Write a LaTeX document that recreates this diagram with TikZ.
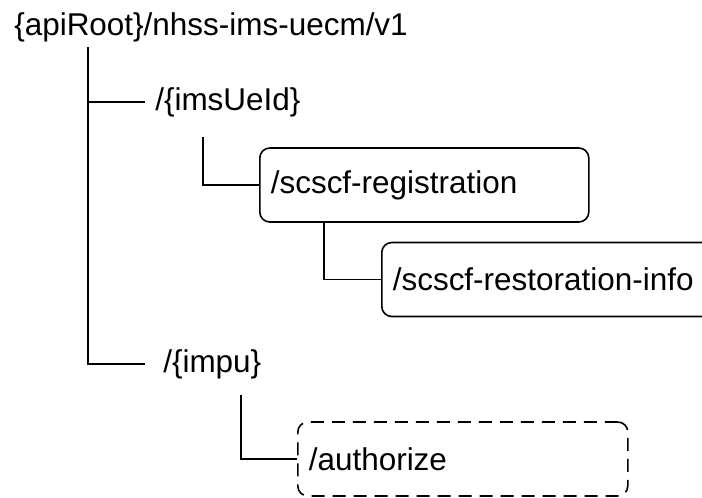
\documentclass[tikz,border=0pt]{standalone}
\usepackage{fontspec}
\setmainfont{Liberation Sans}
\begin{document}
\begin{tikzpicture}[
        x=0.75pt,
        y=-0.75pt,
        tree/.style={
            line width=1.2pt
        },
        pathText/.style={
            inner sep=0pt,
            font=\fontsize{23.6pt}{28pt}\selectfont
        },
        resource/.style={
            rectangle,
            draw,
            line width=1.2pt,
            rounded corners=7.5pt,
            minimum height=55.5pt,
            inner xsep=8.25pt,
            align=left,
            font=\fontsize{23.6pt}{28pt}\selectfont
        },
        optResource/.style={
            resource,
            dash pattern=on 9.75pt off 6pt
        }
    ]

        \clip (0,0) rectangle (702,497);

        \node[pathText, anchor=base west] (root) at (14,35) {\{apiRoot\}/nhss-ims-uecm/v1};
        \node[pathText, anchor=west] (ueid) at (155,102) {/\{imsUeId\}};
        \node[pathText, anchor=west] (impu) at (163,364) {/\{impu\}};

        \node[resource, anchor=west, text width=230.25pt] (reg) at (259,185) {/scscf-registration};
        \node[resource, anchor=west, text width=237.75pt] (rest) at (381,279.5) {/scscf-restoration-info};
        \node[optResource, anchor=west, text width=231pt] (auth) at (297,459) {/authorize};

        \coordinate (trunkTop) at (88,47);
        \coordinate (ueidDrop) at (203,137);
        \coordinate (regDrop) at (324,222);
        \coordinate (impuDrop) at (241,395);

        \draw[tree] (trunkTop) |- ([xshift=-7.5pt]ueid.west);
        \draw[tree] (trunkTop) |- ([xshift=-13.5pt]impu.west);
        \draw[tree] (ueidDrop) |- (reg.west);
        \draw[tree] (regDrop) |- (rest.west);
        \draw[tree] (impuDrop) |- (auth.west);

    \end{tikzpicture}
\end{document}
